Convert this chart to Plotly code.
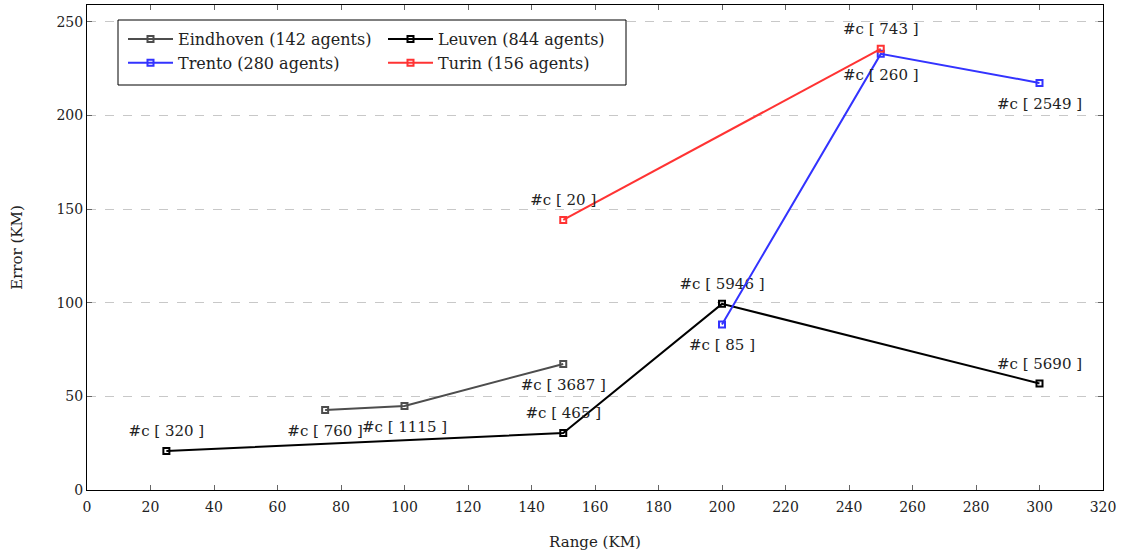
import plotly.graph_objects as go

# Range (KM) vs. localisation error (KM) per city, with client counts per point
eind_range = [75, 100, 150]
eind_error = [42.7, 44.9, 67.3]
eind_count = [760, 1115, 3687]

leuv_range = [25, 150, 200, 300]
leuv_error = [20.8, 30.4, 99.4, 56.9]
leuv_count = [320, 465, 5946, 5690]

tren_range = [200, 250, 300]
tren_error = [88.4, 232.9, 217.4]
tren_count = [85, 260, 2549]

turin_range = [150, 250]
turin_error = [144.2, 235.6]
turin_count = [20, 743]

x_ticks = list(range(0, 321, 20))
y_ticks = [0, 50, 100, 150, 200, 250]

FONT = "DejaVu Serif"
TEXT = "#222222"

series = [
    ("Eindhoven (142 agents)", eind_range, eind_error, eind_count, "#4d4d4d", "bottom center", "legend"),
    ("Leuven (844 agents)", leuv_range, leuv_error, leuv_count, "#000000", "top center", "legend2"),
    ("Trento (280 agents)", tren_range, tren_error, tren_count, "#3333ff", "bottom center", "legend"),
    ("Turin (156 agents)", turin_range, turin_error, turin_count, "#ff3333", "top center", "legend2"),
]

fig = go.Figure()
for name, xs, ys, counts, color, tpos, leg in series:
    fig.add_trace(go.Scatter(
        x=xs, y=ys, name=name, mode="lines+markers",
        line=dict(color=color, width=2),
        marker=dict(symbol="square-open", size=6, color=color, line=dict(width=2, color=color)),
        legend=leg, hoverinfo="x+y",
    ))
    # count labels, pushed away from the point by a transparent marker
    fig.add_trace(go.Scatter(
        x=xs, y=ys, mode="markers+text", showlegend=False, hoverinfo="skip",
        marker=dict(size=22 if tpos.startswith("bottom") else 16, color="rgba(0,0,0,0)"),
        text=[f"#c [ {c} ]" for c in counts],
        textposition=tpos,
        textfont=dict(family=FONT, size=15, color=TEXT),
    ))

axis_common = dict(
    showline=True, linecolor="black", linewidth=1, mirror="ticks",
    ticks="inside", ticklen=5, tickcolor="#666666",
    tickfont=dict(family=FONT, size=14, color=TEXT),
    zeroline=False,
)

fig.update_xaxes(
    range=[0, 320], tickvals=x_ticks, showgrid=False, ticklabelstandoff=4,
    title=dict(text="Range (KM)", font=dict(family=FONT, size=15, color=TEXT), standoff=22),
    **axis_common,
)
fig.update_yaxes(
    range=[0, 259], tickvals=y_ticks, showgrid=True, gridcolor="#c8c8c8",
    griddash="dash", gridwidth=1,
    title=dict(text="Error (KM)", font=dict(family=FONT, size=15, color=TEXT), standoff=30),
    **axis_common,
)

legend_style = dict(
    bgcolor="rgba(0,0,0,0)", borderwidth=0,
    font=dict(family=FONT, size=16, color=TEXT),
    xanchor="left", yanchor="top", tracegroupgap=0, itemwidth=45,
)

fig.update_layout(
    width=1126, height=554,
    margin=dict(l=87, r=23, t=5, b=64),
    plot_bgcolor="white", paper_bgcolor="white",
    font=dict(family=FONT),
    legend=dict(x=(123 - 87) / 1016, y=(490 - 22) / 485, **legend_style),
    legend2=dict(x=(383 - 87) / 1016, y=(490 - 22) / 485, **legend_style),
    shapes=[dict(
        type="rect", xref="paper", yref="paper",
        x0=(118 - 87) / 1016, x1=(626 - 87) / 1016,
        y0=(490 - 85) / 485, y1=(490 - 20) / 485,
        line=dict(color="black", width=1), fillcolor="white", layer="above",
    )],
)

fig.write_html("out.html")
